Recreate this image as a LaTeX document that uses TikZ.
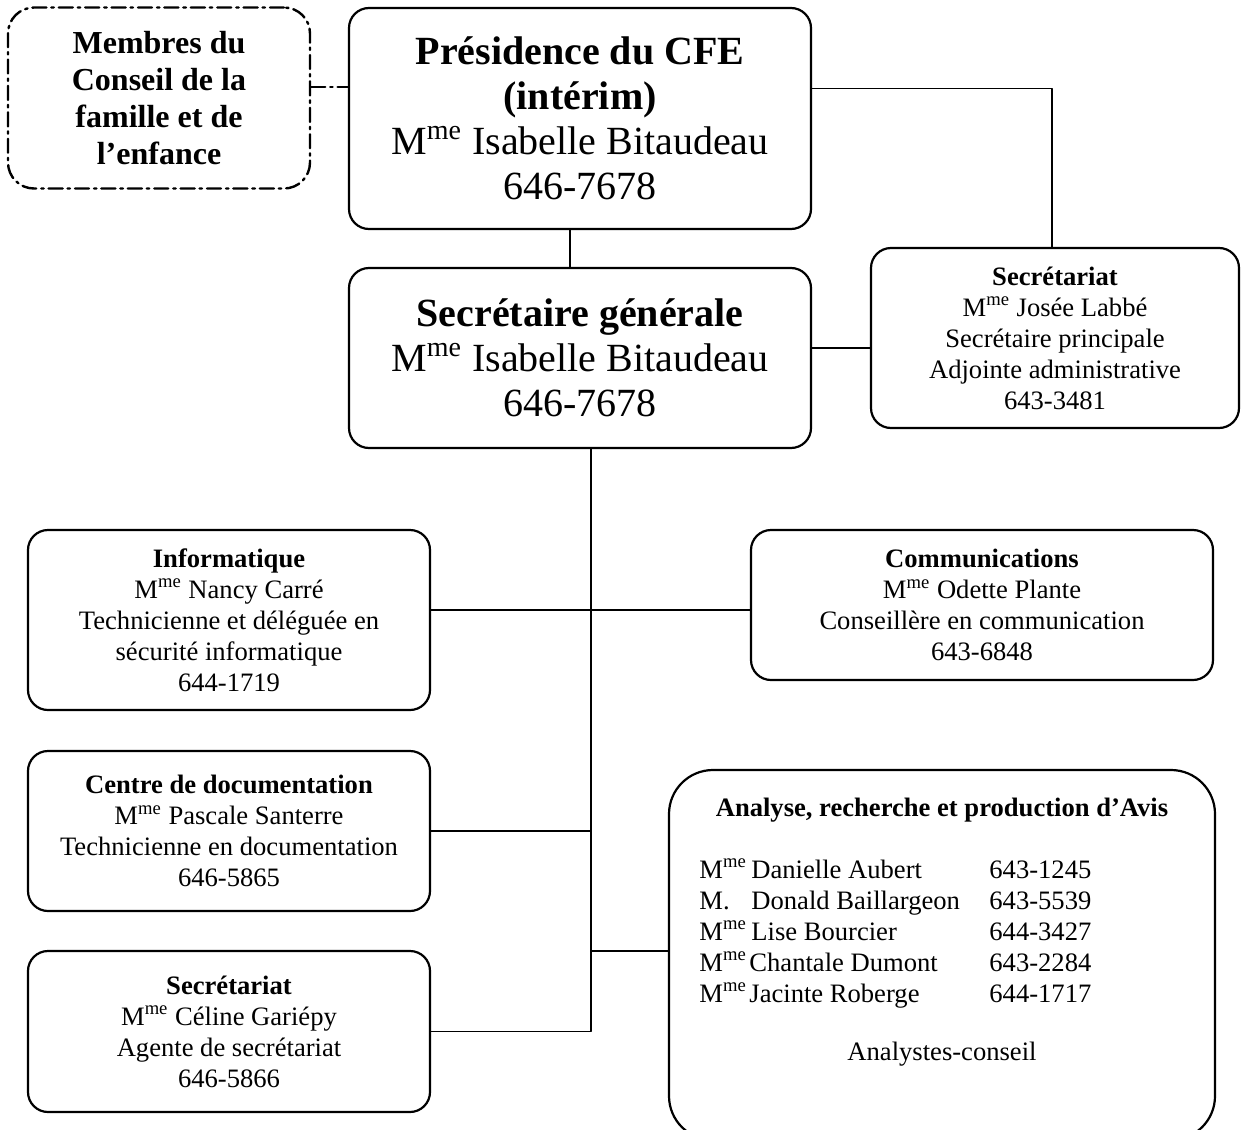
\documentclass[tikz,border=0pt]{standalone}
\usepackage{fontspec}
\setmainfont{Liberation Serif}
\newcommand{\mme}{M\textsuperscript{me}}
\begin{document}
\begin{tikzpicture}[x=0.5pt, y=-0.5pt, line cap=round, line join=round,
	box/.style={draw, rounded corners=10pt, line width=1.1pt, align=center, inner sep=0pt, font=\fontsize{13.3}{15.5}\selectfont},
	bigbox/.style={box, font=\fontsize{20}{22.5}\selectfont},
	link/.style={line width=0.9pt},
	dashdot/.style={line width=1.2pt, dash pattern=on 7pt off 2.5pt on 1.2pt off 2.5pt}]
	\useasboundingbox (0,0) rectangle (1241,1129);
	
	% haut de l'organigramme
	\node[box, dashdot, rounded corners=13pt, minimum width=151pt, minimum height=90.5pt, font=\bfseries\fontsize{16}{18.5}\selectfont] (membres) at (159,98)
		{Membres du\\Conseil de la\\famille et de\\l’enfance};
	\node[bigbox, minimum width=231pt, minimum height=110.5pt] (pres) at (580,118.5)
		{\textbf{Présidence du CFE}\\\textbf{(intérim)}\\\mme{} Isabelle Bitaudeau\\646-7678};
	\node[bigbox, minimum width=231pt, minimum height=90pt] (sg) at (580,358)
		{\textbf{Secrétaire générale}\\\mme{} Isabelle Bitaudeau\\646-7678};
	\node[box, minimum width=184pt, minimum height=90pt] (secr) at (1055,338)
		{\textbf{Secrétariat}\\\mme{} Josée Labbé\\Secrétaire principale\\Adjointe administrative\\643-3481};
	
	% services
	\node[box, minimum width=201pt, minimum height=90pt] (info) at (229,620)
		{\textbf{Informatique}\\\mme{} Nancy Carré\\Technicienne et déléguée en\\sécurité informatique\\644-1719};
	\node[box, minimum width=231pt, minimum height=75pt] (comm) at (982,605)
		{\textbf{Communications}\\\mme{} Odette Plante\\Conseillère en communication\\643-6848};
	\node[box, minimum width=201pt, minimum height=80pt] (doc) at (229,831)
		{\textbf{Centre de documentation}\\\mme{} Pascale Santerre\\Technicienne en documentation\\646-5865};
	\node[box, minimum width=201pt, minimum height=80.5pt] (secb) at (229,1031.5)
		{\textbf{Secrétariat}\\\mme{} Céline Gariépy\\Agente de secrétariat\\646-5866};
	
	% analyse
	\node[box, rounded corners=22pt, minimum width=273pt, minimum height=185pt] (analyse) at (942,955) {};
	\node[font=\bfseries\fontsize{13.3}{15.5}\selectfont] (atitre) at (942,810) {Analyse, recherche et production d’Avis};
	\node[anchor=west, inner sep=0pt, font=\fontsize{13.3}{15.5}\selectfont] (aliste) at (699,934)
		{\begin{tabular}{@{}p{26pt}@{}p{119pt}@{}l@{}}
			\mme & Danielle Aubert & 643-1245\\
			M. & Donald Baillargeon & 643-5539\\
			\mme & Lise Bourcier & 644-3427\\
			\mme & \hspace{-1pt}Chantale Dumont & 643-2284\\
			\mme & \hspace{-1pt}Jacinte Roberge & 644-1717
		\end{tabular}};
	\node[font=\fontsize{13.3}{15.5}\selectfont] (aconseil) at (942,1054) {Analystes-conseil};
	
	% liens
	\coordinate (t) at ([xshift=5.5pt]sg.south);
	\draw[dashdot] ([yshift=5.5pt]membres.east) -- ([yshift=5.5pt]membres.east -| pres.west);
	\draw[link] ([xshift=-5pt]pres.south) -- ([xshift=-5pt]sg.north);
	\draw[link] ([yshift=15pt]pres.east) -| ([xshift=-1.5pt]secr.north);
	\draw[link] ([yshift=5pt]sg.east) -- ([yshift=5pt]sg.east -| secr.west);
	\draw[link] (t) |- (secb.east);
	\draw[link] ([yshift=5pt]info.east) -- ([yshift=5pt]info.east -| comm.west);
	\draw[link] (doc.east) -- (doc.east -| t);
	\draw[link] ([yshift=2pt]analyse.west -| t) -- ([yshift=2pt]analyse.west);
\end{tikzpicture}
\end{document}
